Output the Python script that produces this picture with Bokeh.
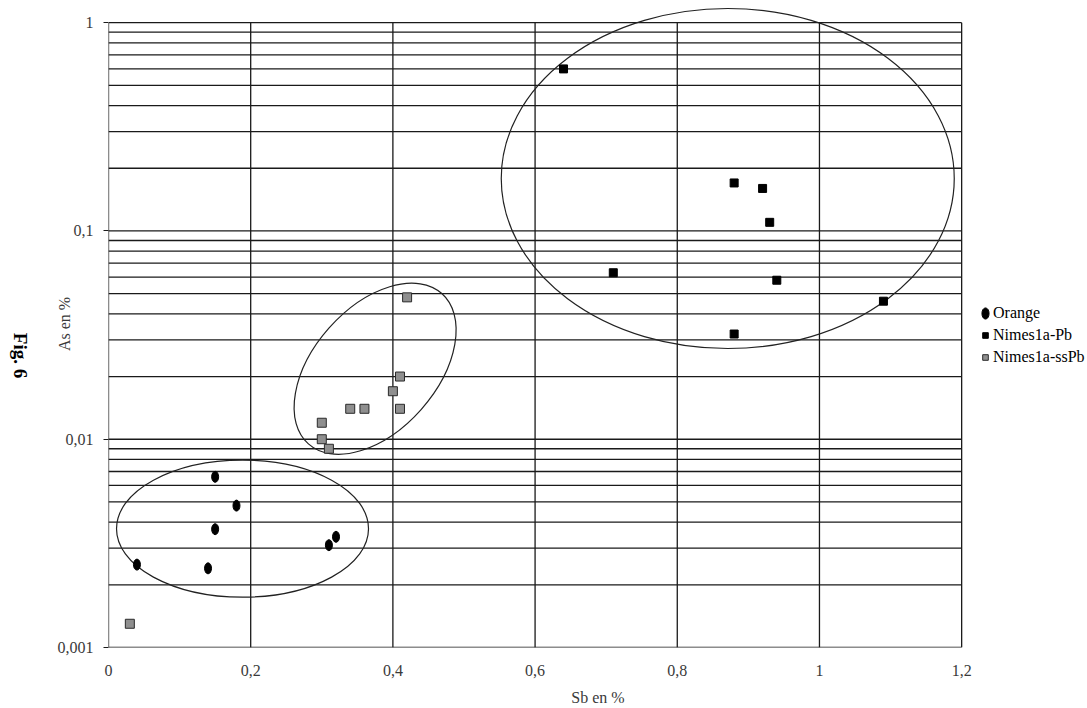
from bokeh.plotting import figure
from bokeh.layouts import row
from bokeh.models import (Range1d, FixedTicker, CustomJSTickFormatter, Label,
                          Legend, LegendItem)
from bokeh.embed import file_html
from bokeh.resources import INLINE
import math

# ---------------- data ----------------
orange_sb = [0.15, 0.18, 0.15, 0.04, 0.14, 0.32, 0.31]
orange_as = [0.0066, 0.0048, 0.0037, 0.0025, 0.0024, 0.0034, 0.0031]

pb_sb = [0.64, 0.88, 0.92, 0.93, 0.71, 0.94, 1.09, 0.88]
pb_as = [0.60, 0.17, 0.16, 0.11, 0.063, 0.058, 0.046, 0.032]

sspb_sb = [0.42, 0.41, 0.40, 0.41, 0.34, 0.36, 0.30, 0.30, 0.31, 0.03]
sspb_as = [0.048, 0.020, 0.017, 0.014, 0.014, 0.014, 0.012, 0.010, 0.009, 0.0013]

x_ticks = [0, 0.2, 0.4, 0.6, 0.8, 1.0, 1.2]
y_ticks = [0.001, 0.01, 0.1, 1]
y_grid = [round(k * 10 ** e, 6) for e in (-3, -2, -1) for k in range(1, 10)] + [1]

# hand-drawn group ellipses (centre in data, size in pixels, angle in rad)
ell_x = [0.1885, 0.375, 0.871]
ell_y = [0.00372, 0.0218, 0.1786]
ell_w = [252, 201, 453]
ell_h = [137, 123, 340]
ell_a = [0.0, 0.845, 0.0]

SERIF = "Liberation Serif"
LINE = "#1a1a1a"
GREY_TXT = "#3a3a3a"
X0, X1 = x_ticks[0], x_ticks[-1]
Y0, Y1 = y_ticks[0], y_ticks[-1]
LEFT_W = 40

# narrow strip on the left that carries the "Fig. 6" caption
cap = figure(width=LEFT_W, height=708, output_backend="svg", toolbar_location=None,
             x_range=Range1d(0, 1), y_range=Range1d(0, 1),
             min_border=0, x_axis_type=None, y_axis_type=None)
cap.outline_line_color = None
cap.grid.visible = False
cap.add_layout(Label(x=20, y=292, x_units="screen", y_units="screen",
                     text="Fig. 6", angle=-math.pi / 2, text_align="center",
                     text_baseline="middle", text_font=SERIF,
                     text_font_size="19px", text_font_style="bold",
                     text_color="black"))

# the frame runs on to the right edge so that the legend can sit beside the box
p = figure(width=1087 - LEFT_W, height=708, output_backend="svg",
           toolbar_location=None, y_axis_type="log",
           x_range=Range1d(0, 1.377), y_range=Range1d(0.001, 1.278),
           min_border_left=108 - LEFT_W, min_border_right=0, min_border_top=0,
           min_border_bottom=57)
p.outline_line_color = None
p.background_fill_color = "white"
p.border_fill_color = "white"
p.xgrid.visible = False
p.ygrid.visible = False

# grid box: horizontal lines at 1..9 x 10^k, vertical lines every 0.2
p.segment(x0=[X0] * len(y_grid), x1=[X1] * len(y_grid), y0=y_grid, y1=y_grid,
          line_color=LINE, line_width=1.3)
p.segment(x0=x_ticks, x1=x_ticks, y0=[Y0] * len(x_ticks), y1=[Y1] * len(x_ticks),
          line_color=LINE, line_width=1.3)

# axes
fmt = CustomJSTickFormatter(code="return String(tick).replace('.', ',');")
p.xaxis.ticker = FixedTicker(ticks=x_ticks)
p.yaxis.ticker = FixedTicker(ticks=y_ticks)
p.xaxis.formatter = fmt
p.yaxis.formatter = fmt
for ax in (p.xaxis, p.yaxis):
    ax.minor_tick_line_color = None
    ax.major_label_text_font = SERIF
    ax.major_label_text_font_size = "16px"
    ax.major_label_text_color = GREY_TXT
    ax.major_tick_in = 0
    ax.axis_line_color = None
    ax.axis_label_text_font = SERIF
    ax.axis_label_text_font_size = "16px"
    ax.axis_label_text_font_style = "normal"
    ax.axis_label_text_color = GREY_TXT
p.xaxis.bounds = (X0, X1)
p.xaxis.major_tick_out = 0
p.xaxis.major_label_standoff = 17
p.xaxis.axis_label = "Sb en %"
p.xaxis.axis_label_standoff = 10

p.yaxis.major_tick_out = 5
p.yaxis.major_tick_line_color = LINE
p.yaxis.major_label_standoff = 10
p.yaxis.axis_label = "As en %"
p.yaxis.axis_label_standoff = -18

# ellipses around groups
p.ellipse(x=ell_x, y=ell_y, width=ell_w, height=ell_h, angle=ell_a,
          width_units="screen", height_units="screen",
          fill_color=None, line_color="#222222", line_width=1.2)

# data points
r_or = p.ellipse(x=orange_sb, y=orange_as, width=7, height=11,
                 width_units="screen", height_units="screen",
                 fill_color="black", line_color="black")
r_pb = p.scatter(x=pb_sb, y=pb_as, marker="square", size=8,
                 fill_color="black", line_color="black")
r_ss = p.scatter(x=sspb_sb, y=sspb_as, marker="square", size=9,
                 fill_color="#8f8f8f", line_color="#2a2a2a", line_width=1)

legend = Legend(items=[LegendItem(label="Orange", renderers=[r_or]),
                       LegendItem(label="Nimes1a-Pb", renderers=[r_pb]),
                       LegendItem(label="Nimes1a-ssPb", renderers=[r_ss])],
                location=(870, 280), padding=0, margin=0, spacing=2,
                glyph_width=14, glyph_height=20, label_height=20,
                label_standoff=1, label_text_font=SERIF,
                label_text_font_size="16px", label_text_color="black",
                background_fill_alpha=0, border_line_alpha=0)
p.add_layout(legend)

layout = row(cap, p, spacing=0)
open("out.html", "w").write(file_html(layout, INLINE))
